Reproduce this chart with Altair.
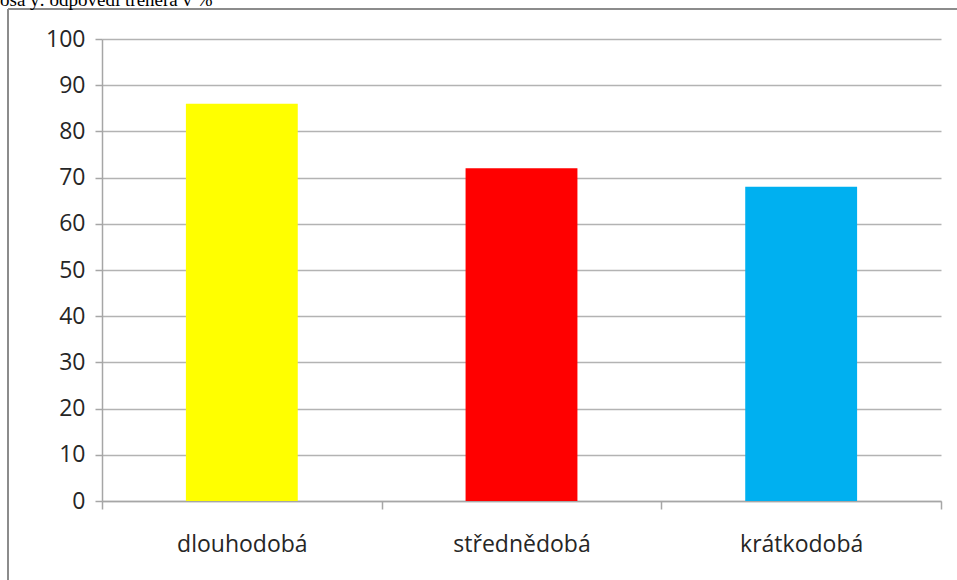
import altair as alt
import pandas as pd

# Trenérova odpověď podle typu přípravy (v %)
categories = ["dlouhodobá", "střednědobá", "krátkodobá"]
values = [86, 72, 68]
colors = ["#FFFF00", "#FF0000", "#00B0F0"]
caption = "osa y: odpovědi trenéra v %"

df = pd.DataFrame({"typ": categories, "hodnota": values})

W, H = 839, 462
PAD = {"left": 102, "top": 39, "right": 16, "bottom": 79}

bars = alt.Chart(df).mark_bar(width=alt.RelativeBandSize(0.4)).encode(
    x=alt.X(
        "typ:N",
        sort=categories,
        title=None,
        scale=alt.Scale(paddingInner=0, paddingOuter=0),
        axis=alt.Axis(
            labelAngle=0,
            labelFont="Open Sans",
            labelFontSize=23,
            labelColor="#262626",
            labelPadding=24,
            tickBand="extent",
            tickSize=8,
            tickColor="#a6a6a6",
            tickWidth=1.5,
            domainColor="#a6a6a6",
            domainWidth=1.5,
            grid=False,
        ),
    ),
    y=alt.Y(
        "hodnota:Q",
        title=None,
        scale=alt.Scale(domain=[0, 100], nice=False),
        axis=alt.Axis(
            values=list(range(0, 101, 10)),
            labelFont="Open Sans",
            labelFontSize=23,
            labelColor="#262626",
            labelPadding=10,
            tickSize=7,
            tickColor="#a6a6a6",
            tickWidth=1.5,
            domainColor="#a6a6a6",
            domainWidth=1.5,
            gridColor="#b3b3b3",
            gridWidth=1.5,
        ),
    ),
    color=alt.Color(
        "typ:N",
        sort=categories,
        scale=alt.Scale(domain=categories, range=colors),
        legend=None,
    ),
)

# Rámeček kolem grafu (levá a horní hrana)
frame_df = pd.DataFrame({"k": [0]})
frame_left = alt.Chart(frame_df).mark_rule(color="#8c8c8c", strokeWidth=2).encode(
    x=alt.value(-94), y=alt.value(-30), y2=alt.value(H + PAD["bottom"] + 5)
)
frame_top = alt.Chart(frame_df).mark_rule(color="#8c8c8c", strokeWidth=2).encode(
    x=alt.value(-94), x2=alt.value(W + PAD["right"] + 5), y=alt.value(-30)
)

cap = alt.Chart(pd.DataFrame({"t": [caption]})).mark_text(
    font="Liberation Serif", fontSize=19, color="#000000",
    align="left", baseline="alphabetic",
).encode(text="t:N", x=alt.value(-102), y=alt.value(-33))

chart = alt.layer(bars, frame_left, frame_top, cap).properties(
    width=W,
    height=H,
    autosize=alt.AutoSizeParams(type="none"),
    padding=PAD,
    background="white",
).configure_view(stroke=None)

chart.save("out.html", embed_options={"renderer": "svg", "actions": False})
